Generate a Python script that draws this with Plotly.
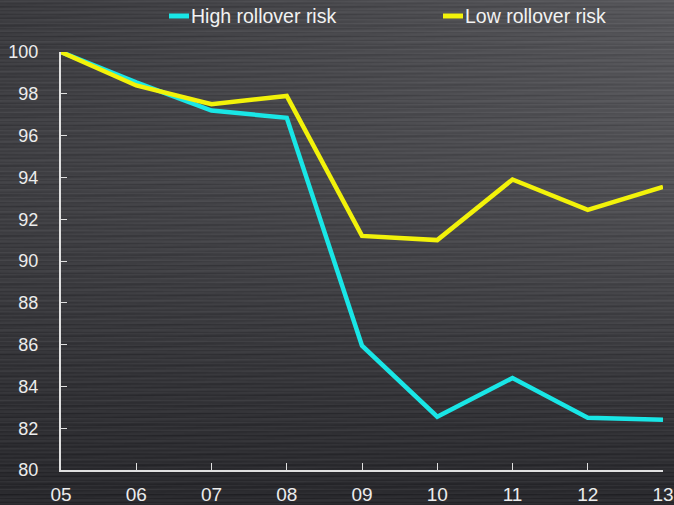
import base64, struct, zlib
import numpy as np
import plotly.graph_objects as go

years = ["05", "06", "07", "08", "09", "10", "11", "12", "13"]
high_risk = [100.0, 98.55, 97.2, 96.85, 85.95, 82.55, 84.4, 82.5, 82.4]
low_risk = [100.0, 98.4, 97.5, 97.9, 91.2, 91.0, 93.9, 92.45, 93.55]
y_ticks = [80, 82, 84, 86, 88, 90, 92, 94, 96, 98, 100]
series_names = ["High rollover risk", "Low rollover risk"]
series_colors = ["#19e6e6", "#f2f20a"]

W, H = 674, 505
L, R, T, B = 61, 11, 52, 35
pw, ph = W - L - R, H - T - B

# brushed-metal style background (deterministic pattern)
yy, xx = np.mgrid[0:H, 0:W].astype(float)
base = 58 + 28 * (xx / W) * (1 - yy / H) + 8 * np.exp(-((yy - 200) / 170) ** 2) - 16 * (yy / H) ** 2
rows = np.arange(H)
stripe = 5 * np.sin(rows * 1.7) + 3 * np.sin(rows * 0.63 + 1.0) + 2 * np.sin(rows * 3.1)
val = base + stripe[:, None] + 2 * np.sin(xx * 0.05 + rows[:, None] * 0.9)
img = np.stack([val - 1, val - 1, val + 3], axis=-1).clip(0, 255).astype(np.uint8)
raw = b"".join(b"\x00" + img[i].tobytes() for i in range(H))


def chunk(tag, data):
    c = struct.pack(">I", len(data)) + tag + data
    return c + struct.pack(">I", zlib.crc32(tag + data) & 0xFFFFFFFF)


png = b"\x89PNG\r\n\x1a\n" + chunk(b"IHDR", struct.pack(">IIBBBBB", W, H, 8, 2, 0, 0, 0)) \
    + chunk(b"IDAT", zlib.compress(raw, 9)) + chunk(b"IEND", b"")
src = "data:image/png;base64," + base64.b64encode(png).decode()

font = "Liberation Sans, Arial, sans-serif"

fig = go.Figure()
for name, vals, col in zip(series_names, [high_risk, low_risk], series_colors):
    fig.add_trace(go.Scatter(x=years, y=vals, mode="lines", name=name,
                             line=dict(color=col, width=4.5), cliponaxis=False))

fig.add_layout_image(dict(source=src, xref="paper", yref="paper", x=-L / pw, y=1 + T / ph,
                          sizex=W / pw, sizey=H / ph, sizing="stretch", layer="below",
                          xanchor="left", yanchor="top"))


def px_x(X):
    return (X - L) / pw


def px_y(Y):
    return 1 + (T - Y) / ph


# manual legend (top)
legend_x = [169, 443]
leg_y = 16
for x0, name, col in zip(legend_x, series_names, series_colors):
    fig.add_shape(type="line", xref="paper", yref="paper", x0=px_x(x0), x1=px_x(x0 + 20),
                  y0=px_y(leg_y), y1=px_y(leg_y), line=dict(color=col, width=5))
    fig.add_annotation(xref="paper", yref="paper", x=px_x(x0 + 20), y=px_y(leg_y),
                       text=name, showarrow=False, xanchor="left", yanchor="middle",
                       font=dict(size=19.5, color="#f2f2f2", family=font))

fig.update_layout(
    width=W, height=H,
    margin=dict(l=L, r=R, t=T, b=B, pad=0, autoexpand=False),
    paper_bgcolor="#46464a", plot_bgcolor="rgba(0,0,0,0)",
    font=dict(family=font, color="#ececec", size=18),
    showlegend=False,
    xaxis=dict(type="category", range=[0, 8], showgrid=False, zeroline=False, automargin=False,
               showline=True, linecolor="#e0e0e0", linewidth=2,
               ticks="inside", ticklen=7, tickcolor="#e0e0e0", tickwidth=1,
               tickfont=dict(size=19, color="#ececec"), ticklabelstandoff=6),
    yaxis=dict(range=[80, 100], tickvals=y_ticks, showgrid=False, zeroline=False, automargin=False,
               showline=True, linecolor="#e0e0e0", linewidth=2,
               ticks="inside", ticklen=6, tickcolor="#e0e0e0", tickwidth=1,
               tickfont=dict(size=18, color="#ececec"), ticklabelstandoff=17),
)

fig.write_html("out.html")
